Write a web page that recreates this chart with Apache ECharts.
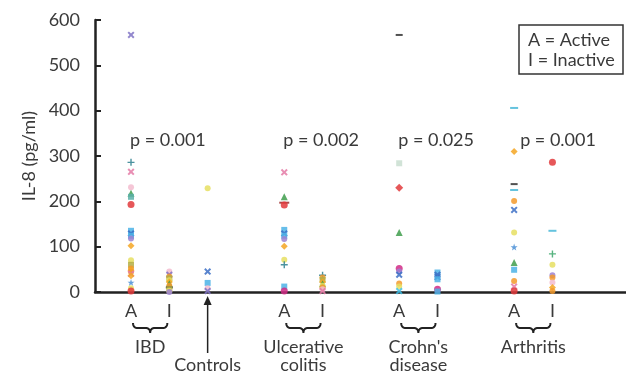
<!DOCTYPE html>
<html>
<head>
<meta charset="utf-8">
<script src="https://cdn.jsdelivr.net/npm/echarts@6/dist/echarts.min.js"></script>
<style>
html, body { margin: 0; padding: 0; background: #fff; }
#chart { width: 626px; height: 374px; }
</style>
</head>
<body>
<div id="chart"></div>
<script>
// IL-8 (pg/ml) per patient, one list per column
const ibdActive = [567, 286, 265, 231, 218, 210, 193, 135, 129, 124, 118, 102, 70, 60, 52, 48, 44, 40, 36, 21, 8, 2]
const ibdInactive = [45, 38, 34, 30, 26, 22, 18, 14, 10, 6, 3, 0]
const controls = [229, 45, 20, 8, 2]
const ucActive = [264, 210, 197, 192, 137, 129, 124, 117, 101, 71, 60, 12, 2]
const ucInactive = [37, 32, 27, 22, 18, 14, 10, 6, 2]
const cdActive = [567, 284, 230, 131, 52, 45, 38, 19, 12, 2]
const cdInactive = [43, 38, 33, 28, 6, 1]
const arthActive = [406, 310, 238, 225, 201, 181, 131, 99, 65, 49, 24, 12, 2]
const arthInactive = [286, 135, 84, 60, 37, 32, 21, 10, 2]

const yTicks = [0, 100, 200, 300, 400, 500, 600]
const pValues = ['p = 0.001', 'p = 0.002', 'p = 0.025', 'p = 0.001']
const diseaseNames = ['IBD', 'Ulcerative\ncolitis', 'Crohn\'s\ndisease', 'Arthritis']

// marker style keys, one per point
const ibdActiveStyle = ['px', 'tp', 'kx', 'lp', 'gt', 'tq', 'rc', 'cs', 'bx', 'cs', 'pc', 'od', 'yc', 'ol', 'oc', 'od', 'oc', 'kx', 'od', 'bs', 'yc', 'rc']
const ibdInactiveStyle = ['lp', 'px', 'oc', 'ol', 'yc', 'od', 'gt', 'oc', 'dm', 'ol', 'yc', 'pc']
const controlsStyle = ['yc', 'bx', 'cs', 'lp', 'px']
const ucActiveStyle = ['kx', 'gt', 'rd', 'rc', 'cs', 'bx', 'cs', 'pc', 'od', 'yc', 'tp', 'cs', 'mc']
const ucInactiveStyle = ['tp', 'oc', 'ol', 'od', 'gt', 'yc', 'oc', 'lp', 'kx']
const cdActiveStyle = ['dm', 'lg', 'rdi', 'gt', 'mc', 'pc', 'bx', 'oc', 'yc', 'cx']
const cdInactiveStyle = ['cs', 'bx', 'bx', 'cs', 'mc', 'cs']
const arthActiveStyle = ['cd', 'od', 'dm', 'cd', 'oc', 'bx', 'yc', 'bs', 'gt', 'cs', 'oc', 'kx', 'rc']
const arthInactiveStyle = ['rc', 'cd', 'gp', 'yc', 'pc', 'oc', 'lp', 'od', 'oc']

const X = 'path://M2,0L5,3L8,0L10,2L7,5L10,8L8,10L5,7L2,10L0,8L3,5L0,2Z'
const PLUS = 'path://M4,0H6V4H10V6H6V10H4V6H0V4H4Z'
const STAR = 'path://M5,0L6.2,3.6L10,3.6L7,5.9L8.1,9.5L5,7.3L1.9,9.5L3,5.9L0,3.6L3.8,3.6Z'
const marks = {
  px: [X, '#7f72c4', 7], tp: [PLUS, '#2c7f8e', 7], kx: [X, '#e47aa6', 7],
  lp: ['circle', '#f3bccf', 6], gt: ['triangle', '#3f9e4c', 7], tq: ['rect', '#5bb0a8', 6],
  rc: ['circle', '#e23a3c', 7], cs: ['rect', '#4cb3e6', 6], bx: [X, '#3b6fc6', 7],
  pc: ['circle', '#9c82d2', 6], od: ['diamond', '#f5a623', 7], yc: ['circle', '#e6df62', 6],
  ol: ['rect', '#b4ae46', 6], oc: ['circle', '#f39a2c', 6], bs: [STAR, '#4a8fd6', 7],
  dm: ['rect', '#333333', [7, 2]], rd: ['rect', '#9c2a2a', [10, 2]], mc: ['circle', '#d12c86', 7],
  cd: ['rect', '#4ab8d8', [8, 2]], lg: ['rect', '#c9ded0', 6], rdi: ['diamond', '#e23a3c', 8],
  cx: [X, '#3fc0e8', 7], gp: [PLUS, '#3aa66a', 7]
}

// column order along the axis (slot index), Controls has no A/I label
const columns = [
  { slot: 0, label: 'A', values: ibdActive, styles: ibdActiveStyle },
  { slot: 1, label: 'I', values: ibdInactive, styles: ibdInactiveStyle },
  { slot: 2, label: '', values: controls, styles: controlsStyle },
  { slot: 4, label: 'A', values: ucActive, styles: ucActiveStyle },
  { slot: 5, label: 'I', values: ucInactive, styles: ucInactiveStyle },
  { slot: 7, label: 'A', values: cdActive, styles: cdActiveStyle },
  { slot: 8, label: 'I', values: cdInactive, styles: cdInactiveStyle },
  { slot: 10, label: 'A', values: arthActive, styles: arthActiveStyle },
  { slot: 11, label: 'I', values: arthInactive, styles: arthInactiveStyle }
]
const pairs = [[0, 1], [4, 5], [7, 8], [10, 11]]
const controlsSlot = 2

const FONT = 'Lato, "DejaVu Sans", sans-serif'
const TXT = '#3a3a3a'

const chart = echarts.init(document.getElementById('chart'))

const series = columns.map(function (c) {
  return {
    type: 'scatter',
    silent: true,
    data: c.values.map(function (v, i) {
      const m = marks[c.styles[i]]
      return { value: [c.slot, v], symbol: m[0], symbolSize: m[2], itemStyle: { color: m[1], opacity: 0.85 } }
    })
  }
})

const slotLabel = {}
columns.forEach(function (c) { if (c.label) slotLabel[c.slot] = c.label })

chart.setOption({
  animation: false,
  grid: { left: 95, right: 0, top: 20, bottom: 82 },
  xAxis: {
    type: 'value',
    min: -0.94,
    max: 12.92,
    splitLine: { show: false },
    axisLine: { lineStyle: { color: '#222', width: 2.5 } },
    axisTick: { show: false },
    axisLabel: {
      customValues: Object.keys(slotLabel).map(Number),
      formatter: function (v) { return slotLabel[v] || '' },
      color: TXT, fontSize: 18, fontFamily: FONT, margin: 10
    }
  },
  yAxis: {
    type: 'value',
    min: yTicks[0],
    max: yTicks[yTicks.length - 1],
    interval: 100,
    name: 'IL-8 (pg/ml)',
    nameLocation: 'middle',
    nameGap: 56,
    nameTextStyle: { color: TXT, fontSize: 18, fontFamily: FONT },
    splitLine: { show: false },
    axisLine: { show: true, onZero: false, lineStyle: { color: '#222', width: 2.5 } },
    axisTick: { show: true, inside: true, length: 6, lineStyle: { color: '#222', width: 2 } },
    axisLabel: { color: TXT, fontSize: 18, fontFamily: FONT, margin: 15 }
  },
  series: series
})

// annotations placed through the axes
const px = function (slot) { return chart.convertToPixel({ xAxisIndex: 0 }, slot) }
const py = function (v) { return chart.convertToPixel({ yAxisIndex: 0 }, v) }

// sampled quadratic curve, for the braces
function quad (p0, p1, p2, out) {
  for (let t = 0; t <= 1.0001; t += 0.125) {
    const a = (1 - t) * (1 - t), b = 2 * (1 - t) * t, c = t * t
    out.push([a * p0[0] + b * p1[0] + c * p2[0], a * p0[1] + b * p1[1] + c * p2[1]])
  }
}

const graphics = []
const braceY = 323
pairs.forEach(function (p, k) {
  const x1 = px(p[0]) + 2, x2 = px(p[1]) - 2, m = (x1 + x2) / 2
  const y = braceY
  const pts = []
  quad([x1, y], [x1, y + 5], [x1 + 5, y + 5], pts)
  quad([m - 5, y + 5], [m, y + 5], [m, y + 10], pts)
  quad([m, y + 10], [m, y + 5], [m + 5, y + 5], pts)
  quad([x2 - 5, y + 5], [x2, y + 5], [x2, y], pts)
  graphics.push({ type: 'polyline', shape: { points: pts }, style: { fill: null, stroke: '#222', lineWidth: 2 } })
  graphics.push({
    type: 'text', x: m, y: 338,
    style: { text: diseaseNames[k], fill: TXT, font: '18px ' + FONT, align: 'center', verticalAlign: 'top', lineHeight: 18 }
  })
  graphics.push({
    type: 'text', x: px(p[0]) - 1 + (k === 3 ? 7 : 0), y: py(335),
    style: { text: pValues[k], fill: TXT, font: '18px ' + FONT, align: 'left', verticalAlign: 'middle' }
  })
})

// Controls arrow
const cx = px(controlsSlot)
graphics.push({ type: 'line', shape: { x1: cx, y1: 303, x2: cx, y2: 353 }, style: { stroke: '#222', lineWidth: 1.5 } })
graphics.push({ type: 'polygon', shape: { points: [[cx, 296], [cx - 4, 305], [cx + 4, 305]] }, style: { fill: '#222' } })
graphics.push({
  type: 'text', x: cx, y: 356,
  style: { text: 'Controls', fill: TXT, font: '18px ' + FONT, align: 'center', verticalAlign: 'top' }
})

// A/I key box
graphics.push({ type: 'rect', shape: { x: 519, y: 25, width: 104, height: 49 }, style: { fill: '#fff', stroke: '#333', lineWidth: 1.5 } })
graphics.push({
  type: 'text', x: 528, y: 40,
  style: { text: 'A = Active', fill: TXT, font: '18px ' + FONT, verticalAlign: 'middle' }
})
graphics.push({
  type: 'text', x: 528, y: 60,
  style: { text: 'I = Inactive', fill: TXT, font: '18px ' + FONT, verticalAlign: 'middle' }
})

chart.setOption({ graphic: graphics })
</script>
</body>
</html>
